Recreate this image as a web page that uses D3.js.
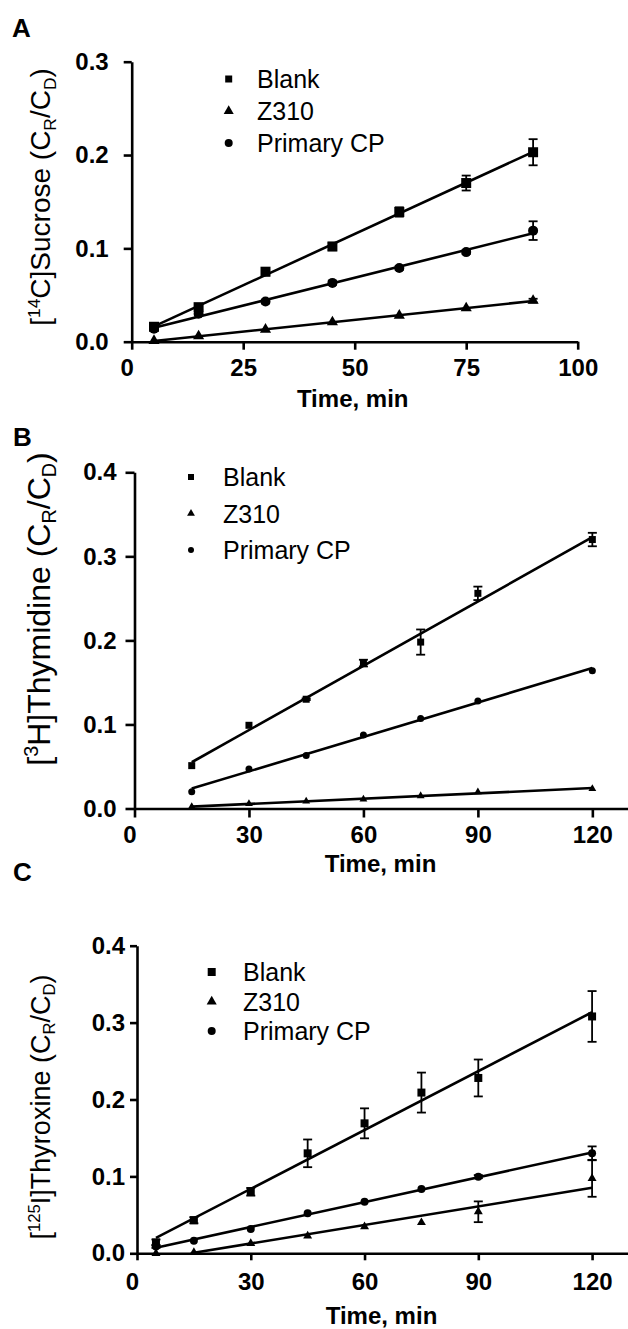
<!DOCTYPE html>
<html>
<head>
<meta charset="utf-8">
<script src="https://cdn.jsdelivr.net/npm/d3@7"></script>
<style>
  body { margin: 0; background: #fff; }
  svg { display: block; }
</style>
</head>
<body>
<svg id="fig" width="628" height="1329"></svg>
<script>
// series names / shapes shared by all three panels
const seriesNames = ['Blank', 'Z310', 'Primary CP'];
const seriesShapes = ['square', 'triangle', 'circle'];

// A: [14C]Sucrose
const timeA = [5, 15, 30, 45, 60, 75, 90];
const blankA = [0.016, 0.037, 0.075, 0.102, 0.139, 0.170, 0.203];
const blankErrA = [0.002, 0.003, 0.004, 0.004, 0.005, 0.008, 0.014];
const z310A = [0.001, 0.006, 0.013, 0.021, 0.028, 0.036, 0.044];
const z310ErrA = [0, 0, 0, 0, 0, 0, 0.002];
const cpA = [0.014, 0.030, 0.043, 0.063, 0.079, 0.096, 0.119];
const cpErrA = [0.002, 0.002, 0.002, 0.002, 0.002, 0.002, 0.010];

// B: [3H]Thymidine
const timeB = [15, 30, 45, 60, 75, 90, 120];
const blankB = [0.051, 0.099, 0.130, 0.173, 0.198, 0.256, 0.320];
const blankErrB = [0, 0, 0.001, 0.004, 0.015, 0.008, 0.008];
const z310B = [0.002, 0.0056, 0.0087, 0.011, 0.015, 0.0195, 0.0235];
const z310ErrB = [0, 0, 0, 0, 0, 0, 0];
const cpB = [0.020, 0.047, 0.063, 0.0875, 0.107, 0.128, 0.164];
const cpErrB = [0, 0, 0, 0, 0, 0, 0];

// C: [125I]Thyroxine
const timeC = [5, 15, 30, 45, 60, 75, 90, 120];
const blankC = [0.014, 0.043, 0.080, 0.130, 0.169, 0.209, 0.228, 0.308];
const blankErrC = [0.004, 0.004, 0.005, 0.018, 0.0195, 0.026, 0.024, 0.033];
const z310C = [0.0, 0.001, 0.013, 0.0225, 0.0346, 0.040, 0.054, 0.0975];
const z310ErrC = [0, 0, 0, 0, 0, 0, 0.0135, 0.024];
const cpC = [0.009, 0.0164, 0.0316, 0.052, 0.067, 0.0836, 0.0997, 0.130];
const cpErrC = [0.002, 0, 0, 0, 0, 0, 0.002, 0.009];

const ticksA = { x: [0, 25, 50, 75, 100], y: [0, 0.1, 0.2, 0.3] };
const ticksBC = { x: [0, 30, 60, 90, 120], y: [0, 0.1, 0.2, 0.3, 0.4] };

const FONT = '"Liberation Sans", Arial, Helvetica, sans-serif';
const svg = d3.select('#fig');

const panels = [
  {
    letter: 'A', letterPos: [12, 37],
    time: timeA, values: [blankA, z310A, cpA], errs: [blankErrA, z310ErrA, cpErrA],
    xDomain: [0, 100], xRange: [131.7, 577.7], xTicks: ticksA.x,
    yDomain: [0, 0.3], yRange: [341.7, 61.7], yTicks: ticksA.y,
    tick: 8, xPad: 9, yPad: 15,
    yLabel: [['['], ['14', 'sup'], ['C]Sucrose (C'], ['R', 'sub'], ['/C'], ['D', 'sub'], [')']],
    yLabelSize: 28, yLabelCenter: 197,
    timeLabelY: 407,
    marker: 10, legend: { x: 228.7, y: 79, row: 32, tx: 257, sizes: [7, 9, 8] }
  },
  {
    letter: 'B', letterPos: [13, 446],
    time: timeB, values: [blankB, z310B, cpB], errs: [blankErrB, z310ErrB, cpErrB],
    xDomain: [0, 130], xRange: [134.5, 630.5], xTicks: ticksBC.x,
    yDomain: [0, 0.4], yRange: [808.5, 472.3], yTicks: ticksBC.y,
    tick: 9, xPad: 8, yPad: 9,
    yLabel: [['['], ['3', 'sup'], ['H]Thymidine (C'], ['R', 'sub'], ['/C'], ['D', 'sub'], [')']],
    yLabelSize: 32, yLabelCenter: 609,
    timeLabelY: 872,
    marker: 7, legend: { x: 191, y: 477, row: 36.5, tx: 223, sizes: [6, 7, 6] }
  },
  {
    letter: 'C', letterPos: [13, 881],
    time: timeC, values: [blankC, z310C, cpC], errs: [blankErrC, z310ErrC, cpErrC],
    xDomain: [0, 130], xRange: [137, 630], xTicks: ticksBC.x,
    yDomain: [0, 0.4], yRange: [1253.3, 945.7], yTicks: ticksBC.y,
    tick: 7, xPad: 13, yPad: 5,
    yLabel: [['['], ['125', 'sup'], ['I]Thyroxine (C'], ['R', 'sub'], ['/C'], ['D', 'sub'], [')']],
    yLabelSize: 27, yLabelCenter: 1107,
    timeLabelY: 1324,
    marker: 8, legend: { x: 211.7, y: 972, row: 29.5, tx: 243, sizes: [8, 9, 8] }
  }
];

function symbolPath(shape, w) {
  if (shape === 'square') return d3.symbol(d3.symbolSquare, w * w)();
  if (shape === 'triangle') return d3.symbol(d3.symbolTriangle, Math.sqrt(3) / 4 * w * w * 1.25)();
  return d3.symbol(d3.symbolCircle, Math.PI * (w / 2) * (w / 2))();
}

function fit(xs, ys) {
  const mx = d3.mean(xs), my = d3.mean(ys);
  let sxy = 0, sxx = 0;
  xs.forEach((x, i) => { sxy += (x - mx) * (ys[i] - my); sxx += (x - mx) * (x - mx); });
  const m = sxy / sxx;
  return { m, b: my - m * mx };
}

function drawPanel(p) {
  const x = d3.scaleLinear().domain(p.xDomain).range(p.xRange);
  const y = d3.scaleLinear().domain(p.yDomain).range(p.yRange);
  const g = svg.append('g');

  g.append('text')
    .attr('x', p.letterPos[0]).attr('y', p.letterPos[1])
    .style('font-family', FONT).style('font-weight', 'bold').style('font-size', '26px')
    .text(p.letter);

  const xAxis = g.append('g')
    .attr('transform', `translate(0,${y(0)})`)
    .call(d3.axisBottom(x).tickValues(p.xTicks).tickSize(p.tick).tickSizeOuter(0)
      .tickPadding(p.xPad).tickFormat(d3.format('d')));
  // the "0" label sits a little left of its tick in the original
  xAxis.selectAll('.tick text').filter(d => d === 0).attr('dx', -5);

  const yAxis = g.append('g')
    .attr('transform', `translate(${x(0)},0)`)
    .call(d3.axisLeft(y).tickValues(p.yTicks).tickSize(p.tick).tickSizeOuter(0)
      .tickPadding(p.yPad).tickFormat(d3.format('.1f')));

  [xAxis, yAxis].forEach(a => {
    a.select('.domain').attr('stroke', '#000').attr('stroke-width', 2.6);
    a.selectAll('.tick line').attr('stroke', '#000').attr('stroke-width', 2.6);
    a.selectAll('.tick text')
      .attr('fill', '#000')
      .style('font-family', FONT).style('font-weight', 'bold').style('font-size', '24px');
  });

  g.append('text')
    .attr('x', (x(0) + p.xRange[1]) / 2 - 2)
    .attr('y', p.timeLabelY)
    .attr('text-anchor', 'middle')
    .style('font-family', FONT).style('font-weight', 'bold').style('font-size', '24px')
    .text('Time, min');

  // rotated y label with super/subscripts
  const fs = p.yLabelSize;
  const yl = g.append('text')
    .attr('transform', `translate(50,${p.yLabelCenter}) rotate(-90)`)
    .attr('text-anchor', 'middle')
    .style('font-family', FONT).style('font-size', fs + 'px');
  let shift = 0;
  p.yLabel.forEach(([t, kind]) => {
    let target = 0;
    if (kind === 'sup') target = -0.36 * fs;
    if (kind === 'sub') target = 0.2 * fs;
    const ts = yl.append('tspan').attr('dy', target - shift).text(t);
    if (kind) ts.style('font-size', (0.62 * fs) + 'px');
    shift = target;
  });

  // fitted lines, clipped at y = 0
  p.values.forEach(vals => {
    const f = fit(p.time, vals);
    let x0 = d3.min(p.time);
    const x1 = d3.max(p.time);
    if (f.m * x0 + f.b < 0) x0 = -f.b / f.m;
    g.append('line')
      .attr('x1', x(x0)).attr('y1', y(f.m * x0 + f.b))
      .attr('x2', x(x1)).attr('y2', y(f.m * x1 + f.b))
      .attr('stroke', '#000').attr('stroke-width', 2.6);
  });

  // error bars
  p.values.forEach((vals, s) => {
    vals.forEach((v, i) => {
      const e = p.errs[s][i];
      if (!e) return;
      const cx = x(p.time[i]);
      const eg = g.append('g').attr('stroke', '#000').attr('stroke-width', 1.8);
      eg.append('line').attr('x1', cx).attr('x2', cx).attr('y1', y(v - e)).attr('y2', y(v + e));
      [v - e, v + e].forEach(t => {
        eg.append('line').attr('x1', cx - 4.5).attr('x2', cx + 4.5).attr('y1', y(t)).attr('y2', y(t));
      });
    });
  });

  // markers
  p.values.forEach((vals, s) => {
    g.selectAll(null)
      .data(vals)
      .join('path')
      .attr('transform', (d, i) => `translate(${x(p.time[i])},${y(d)})`)
      .attr('d', symbolPath(seriesShapes[s], p.marker))
      .attr('fill', '#000');
  });

  // legend
  const lg = p.legend;
  seriesNames.forEach((name, s) => {
    const cy = lg.y + s * lg.row;
    g.append('path')
      .attr('transform', `translate(${lg.x},${cy})`)
      .attr('d', symbolPath(seriesShapes[s], lg.sizes[s]))
      .attr('fill', '#000');
    g.append('text')
      .attr('x', lg.tx).attr('y', cy + 9)
      .style('font-family', FONT).style('font-size', '25px')
      .text(name);
  });
}

panels.forEach(drawPanel);
</script>
</body>
</html>
